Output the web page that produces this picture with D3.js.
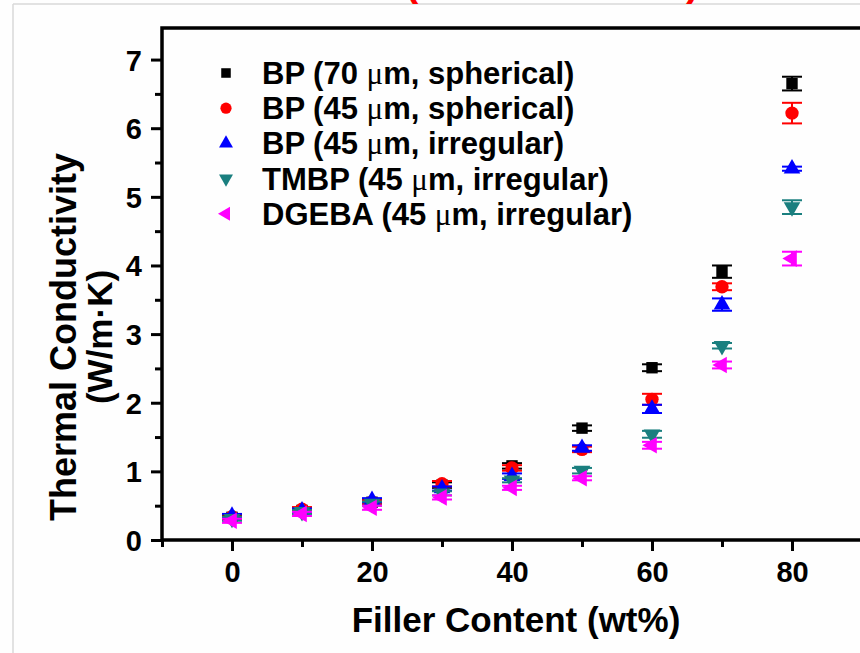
<!DOCTYPE html>
<html>
<head>
<style>
  body { margin: 0; background: #fefefe; }
  text { font-family: Arial, "Liberation Sans", sans-serif; font-weight: bold; }
</style>
</head>
<body>
<div id="vis"></div>
<script src="https://d3js.org/d3.v7.min.js"></script>
<script>
    // data
    let fillerContent = [0, 10, 20, 30, 40, 50, 60, 70, 80];
    let bp70 = [0.33, 0.43, 0.55, 0.80, 1.08, 1.63, 2.51, 3.91, 6.65];
    let bp70Err = [0.03, 0.03, 0.03, 0.04, 0.04, 0.04, 0.05, 0.09, 0.10];
    let bp45s = [0.34, 0.45, 0.55, 0.82, 1.05, 1.32, 2.05, 3.69, 6.22];
    let bp45sErr = [0.03, 0.03, 0.03, 0.04, 0.04, 0.04, 0.08, 0.05, 0.15];
    let bp45i = [0.35, 0.43, 0.58, 0.75, 0.93, 1.34, 1.91, 3.43, 5.41];
    let bp45iErr = [0.03, 0.03, 0.03, 0.03, 0.04, 0.04, 0.06, 0.09, 0.03];
    let tmbp = [0.31, 0.41, 0.53, 0.68, 0.87, 1.01, 1.54, 2.83, 4.85];
    let tmbpErr = [0.03, 0.03, 0.03, 0.03, 0.03, 0.04, 0.05, 0.04, 0.10];
    let dgeba = [0.28, 0.38, 0.47, 0.62, 0.76, 0.90, 1.38, 2.55, 4.10];
    let dgebaErr = [0.03, 0.03, 0.03, 0.03, 0.03, 0.03, 0.05, 0.05, 0.10];

    let xTicks = [0, 20, 40, 60, 80];
    let xMinorTicks = [-10, 10, 30, 50, 70];
    let yTicks = [0, 1, 2, 3, 4, 5, 6, 7];
    let yMinorTicks = [0.5, 1.5, 2.5, 3.5, 4.5, 5.5, 6.5];

    let seriesNames = ["BP (70 |m, spherical)", "BP (45 |m, spherical)", "BP (45 |m, irregular)",
                       "TMBP (45 |m, irregular)", "DGEBA (45 |m, irregular)"];
    let seriesColors = ["#000000", "#ff0000", "#0000ff", "#1a7f7f", "#ff00ff"];
    let seriesValues = [bp70, bp45s, bp45i, tmbp, dgeba];
    let seriesErrors = [bp70Err, bp45sErr, bp45iErr, tmbpErr, dgebaErr];

    // shapes: square, circle, up, down, left
    let shapes = [
        {type: d3.symbolSquare, size: 130, rot: 0},
        {type: d3.symbolCircle, size: 140, rot: 0},
        {type: d3.symbolTriangle, size: 120, rot: 0},
        {type: d3.symbolTriangle, size: 120, rot: 180},
        {type: d3.symbolTriangle, size: 120, rot: -90}
    ];

    let W = 860, H = 653;
    let svg = d3.select("#vis").append("svg")
        .attr("width", W).attr("height", H);

    // page frame lines
    svg.append("line").attr("x1", 13).attr("x2", 13).attr("y1", 4).attr("y2", H)
        .attr("stroke", "#d8d8d8").attr("stroke-width", 1.5);
    svg.append("line").attr("x1", 13).attr("x2", W).attr("y1", 4).attr("y2", 4)
        .attr("stroke", "#d8d8d8").attr("stroke-width", 1.5);

    // red title, cut off at the top as in the figure
    svg.append("text").attr("x", 405).attr("y", -4).attr("fill", "#ff0000")
        .style("font-size", "40px").text("(");
    svg.append("text").attr("x", 686).attr("y", -4).attr("fill", "#ff0000")
        .style("font-size", "40px").text(")");

    let x = d3.scaleLinear().domain([-10, 90]).range([162, 862]);
    let y = d3.scaleLinear().domain([0, 7.46]).range([540, 28]);

    // axes
    let xAxis = d3.axisBottom(x).tickValues(xTicks).tickSize(11).tickPadding(10)
        .tickFormat(d3.format("d"));
    let gx = svg.append("g").attr("transform", "translate(0,540)").call(xAxis);
    let gxm = svg.append("g").attr("transform", "translate(0,540)")
        .call(d3.axisBottom(x).tickValues(xMinorTicks).tickSize(7).tickFormat(""));

    let yAxis = d3.axisLeft(y).tickValues(yTicks).tickSize(11).tickPadding(9)
        .tickFormat(d3.format("d"));
    let gy = svg.append("g").attr("transform", "translate(162,0)").call(yAxis);
    let gym = svg.append("g").attr("transform", "translate(162,0)")
        .call(d3.axisLeft(y).tickValues(yMinorTicks).tickSize(7).tickFormat(""));

    [gx, gxm, gy, gym].forEach(function (g) {
        g.select(".domain").remove();
        g.selectAll(".tick line").attr("stroke", "#000").attr("stroke-width", 3);
        g.selectAll(".tick text").attr("fill", "#000")
            .style("font-size", "29px").style("font-family", "Arial, 'Liberation Sans', sans-serif")
            .style("font-weight", "bold");
    });
    gy.selectAll(".tick text").attr("dy", "0.36em");

    // plot frame
    svg.append("rect")
        .attr("x", x(-10)).attr("y", y(7.46))
        .attr("width", x(90) - x(-10)).attr("height", y(0) - y(7.46))
        .attr("fill", "none").attr("stroke", "#000").attr("stroke-width", 3.5);

    // axis titles
    svg.append("text")
        .attr("x", 516).attr("y", 632)
        .attr("text-anchor", "middle")
        .style("font-size", "35px")
        .text("Filler Content (wt%)");

    svg.append("text")
        .attr("transform", "translate(76,337) rotate(-90)")
        .attr("text-anchor", "middle")
        .style("font-size", "36px")
        .text("Thermal Conductivity");
    svg.append("text")
        .attr("transform", "translate(112,337) rotate(-90)")
        .attr("text-anchor", "middle")
        .style("font-size", "35px")
        .text("(W/m\u00B7K)");

    // series: error bars then markers
    seriesValues.forEach(function (vals, s) {
        let pts = fillerContent.map(function (f, i) {
            return {f: f, v: vals[i], e: seriesErrors[s][i]};
        });
        let g = svg.append("g");
        let col = seriesColors[s];
        g.selectAll(".eb").data(pts).enter().append("line")
            .attr("x1", function (d) { return x(d.f); })
            .attr("x2", function (d) { return x(d.f); })
            .attr("y1", function (d) { return y(d.v - d.e); })
            .attr("y2", function (d) { return y(d.v + d.e); })
            .attr("stroke", col).attr("stroke-width", 2);
        [-1, 1].forEach(function (sign) {
            g.selectAll(".cap" + sign).data(pts).enter().append("line")
                .attr("x1", function (d) { return x(d.f) - 10; })
                .attr("x2", function (d) { return x(d.f) + 10; })
                .attr("y1", function (d) { return y(d.v + sign * d.e); })
                .attr("y2", function (d) { return y(d.v + sign * d.e); })
                .attr("stroke", col).attr("stroke-width", 2);
        });
        g.selectAll(".pt").data(pts).enter().append("path")
            .attr("d", d3.symbol().type(shapes[s].type).size(shapes[s].size))
            .attr("transform", function (d) {
                return "translate(" + x(d.f) + "," + y(d.v) + ") rotate(" + shapes[s].rot + ")";
            })
            .attr("fill", col);
    });

    // legend
    let legend = svg.append("g");
    seriesNames.forEach(function (name, i) {
        let ly = 73 + i * 35.2;
        legend.append("path")
            .attr("d", d3.symbol().type(shapes[i].type).size(shapes[i].size * 0.7))
            .attr("transform", "translate(226," + ly + ") rotate(" + shapes[i].rot + ")")
            .attr("fill", seriesColors[i]);
        let parts = name.split("|");
        let t = legend.append("text").attr("x", 262).attr("y", ly + 11)
            .style("font-size", "31px");
        t.append("tspan").text(parts[0]);
        t.append("tspan").style("font-family", "'Liberation Serif', serif")
            .style("font-weight", "normal").text("\u03BC");
        t.append("tspan").text(parts[1]);
    });
</script>
</body>
</html>
